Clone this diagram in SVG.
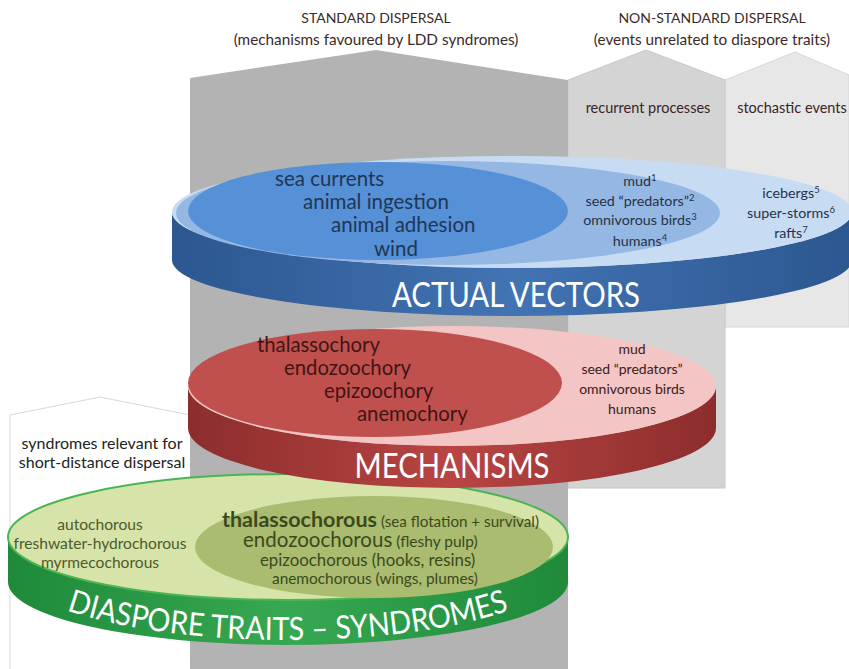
<svg xmlns="http://www.w3.org/2000/svg" width="849" height="669" viewBox="0 0 849 669">
<style>
text{font-family:Lato,"Open Sans","Liberation Sans",sans-serif}
.hdr{font-size:14px;fill:#3b2a2a;text-anchor:middle}
.hdr2{font-size:15.3px;fill:#3b2a2a;text-anchor:middle}
.sub{font-size:14.5px;fill:#3b2424;text-anchor:middle}
.bigb{font-size:20.5px;fill:#1f3657}
.smb{font-size:14.3px;fill:#27324a;text-anchor:middle}
.bigr{font-size:20.3px;fill:#3f1515}
.smr{font-size:14px;fill:#3a2020;text-anchor:middle}
.smg{font-size:15.6px;fill:#4d5a2c;text-anchor:middle}
.lbox{font-size:16px;fill:#222222;text-anchor:middle}
.ing{fill:#3b4a1c}
.band{fill:#ffffff;text-anchor:middle}
.sup{font-size:9.5px}
</style>
<defs>
<linearGradient id="gBlue" x1="0" x2="1" y1="0" y2="0">
<stop offset="0" stop-color="#2c5790"/><stop offset="0.5" stop-color="#4273b3"/><stop offset="1" stop-color="#2c5790"/>
</linearGradient>
<linearGradient id="gRed" x1="0" x2="1" y1="0" y2="0">
<stop offset="0" stop-color="#8c2d2c"/><stop offset="0.5" stop-color="#b84543"/><stop offset="1" stop-color="#8c2d2c"/>
</linearGradient>
<linearGradient id="gGreen" x1="0" x2="1" y1="0" y2="0">
<stop offset="0" stop-color="#1e8a3a"/><stop offset="0.5" stop-color="#37a852"/><stop offset="1" stop-color="#1e8a3a"/>
</linearGradient>
<path id="arcGreen" d="M6,562 A282,78 0 0 0 570,562"/>
</defs>
<rect width="849" height="669" fill="#ffffff"/>

<g id="col-stochastic">
<polygon points="725,80 795,52 849,75 849,327 725,327" fill="#e7e7e7" stroke="#d6d6d6" stroke-width="1"/>
<text class="sub" x="792" y="113">stochastic events</text>
</g>
<g id="col-recurrent">
<polygon points="568,80 646,50 725,80 725,488 568,488" fill="#d4d4d4" stroke="#c8c8c8" stroke-width="1"/>
<text class="sub" x="648" y="113">recurrent processes</text>
</g>
<g id="col-standard">
<polygon points="190,78 376,50 568,80 568,669 190,669" fill="#b3b3b3"/>
</g>
<g id="header-standard">
<text class="hdr" x="376" y="23">STANDARD DISPERSAL</text>
<text class="hdr2" x="376" y="45">(mechanisms favoured by LDD syndromes)</text>
</g>
<g id="header-nonstandard">
<text class="hdr" x="712" y="23">NON-STANDARD DISPERSAL</text>
<text class="hdr2" x="712" y="45">(events unrelated to diaspore traits)</text>
</g>
<g id="box-short">
<polyline points="10,669 10,415 100,397 190,415" fill="#ffffff" stroke="#d9d9d9" stroke-width="1"/>
<text class="lbox" x="102" y="449">syndromes relevant for</text>
<text class="lbox" x="102" y="468">short-distance dispersal</text>
</g>

<g id="disk-traits">
<path d="M8,537 L8,582 A280,63 0 0 0 568,582 L568,537 A280,63 0 0 1 8,537 Z" fill="url(#gGreen)"/>
<ellipse cx="288" cy="537" rx="280" ry="63" fill="#d7e4a9" stroke="#4db453" stroke-width="2"/>
<ellipse cx="374" cy="547" rx="179" ry="51" fill="#a9bc70"/>
<text class="smg" x="100" y="530">autochorous</text>
<text class="smg" x="100" y="549">freshwater-hydrochorous</text>
<text class="smg" x="100" y="568">myrmecochorous</text>
<text x="222" y="527" class="ing"><tspan font-size="21.5" font-weight="bold">thalassochorous</tspan><tspan font-size="15.2"> (sea flotation + survival)</tspan></text>
<text x="243" y="547" class="ing"><tspan font-size="20.5">endozoochorous</tspan><tspan font-size="15.5"> (fleshy pulp)</tspan></text>
<text x="260" y="566" class="ing" font-size="16.8">epizoochorous (hooks, resins)</text>
<text x="272" y="584" class="ing" font-size="15.4">anemochorous (wings, plumes)</text>
<text class="band" font-size="32"><textPath href="#arcGreen" startOffset="50%" textLength="448" lengthAdjust="spacingAndGlyphs">DIASPORE TRAITS – SYNDROMES</textPath></text>
</g>

<g id="disk-mechanisms">
<path d="M188,386 L188,428 A264,60 0 0 0 716,428 L716,386 A264,60 0 0 1 188,386 Z" fill="url(#gRed)"/>
<ellipse cx="452" cy="386" rx="264" ry="60" fill="#f3c5c4"/>
<ellipse cx="375" cy="383" rx="187" ry="54" fill="#c0504d"/>
<text class="bigr" x="257" y="352">thalassochory</text>
<text class="bigr" x="284" y="375">endozoochory</text>
<text class="bigr" x="324" y="398">epizoochory</text>
<text class="bigr" x="357" y="421">anemochory</text>
<text class="smr" x="632" y="354">mud</text>
<text class="smr" x="632" y="374">seed “predators”</text>
<text class="smr" x="632" y="394">omnivorous birds</text>
<text class="smr" x="632" y="414">humans</text>
<text class="band" x="452" y="478" font-size="34" textLength="195" lengthAdjust="spacingAndGlyphs">MECHANISMS</text>
</g>

<g id="disk-vectors">
<path d="M172,212 L172,260 A340,56 0 0 0 852,260 L852,212 A340,56 0 0 1 172,212 Z" fill="url(#gBlue)"/>
<ellipse cx="512" cy="212" rx="340" ry="56" fill="#c7dcf3"/>
<ellipse cx="448" cy="213" rx="272" ry="52" fill="#94b8e3"/>
<ellipse cx="378" cy="211" rx="190" ry="49" fill="#5690d6"/>
<text class="bigb" x="275" y="186">sea currents</text>
<text class="bigb" x="303" y="209">animal ingestion</text>
<text class="bigb" x="331" y="232">animal adhesion</text>
<text class="bigb" x="374" y="256">wind</text>
<text class="smb" x="640" y="186">mud<tspan class="sup" dy="-5">1</tspan></text>
<text class="smb" x="640" y="206">seed “predators”<tspan class="sup" dy="-5">2</tspan></text>
<text class="smb" x="640" y="225">omnivorous birds<tspan class="sup" dy="-5">3</tspan></text>
<text class="smb" x="640" y="246">humans<tspan class="sup" dy="-5">4</tspan></text>
<text class="smb" x="791" y="198">icebergs<tspan class="sup" dy="-5">5</tspan></text>
<text class="smb" x="791" y="218">super-storms<tspan class="sup" dy="-5">6</tspan></text>
<text class="smb" x="791" y="238">rafts<tspan class="sup" dy="-5">7</tspan></text>
<text class="band" x="516" y="307" font-size="34" textLength="248" lengthAdjust="spacingAndGlyphs">ACTUAL VECTORS</text>
</g>
</svg>
